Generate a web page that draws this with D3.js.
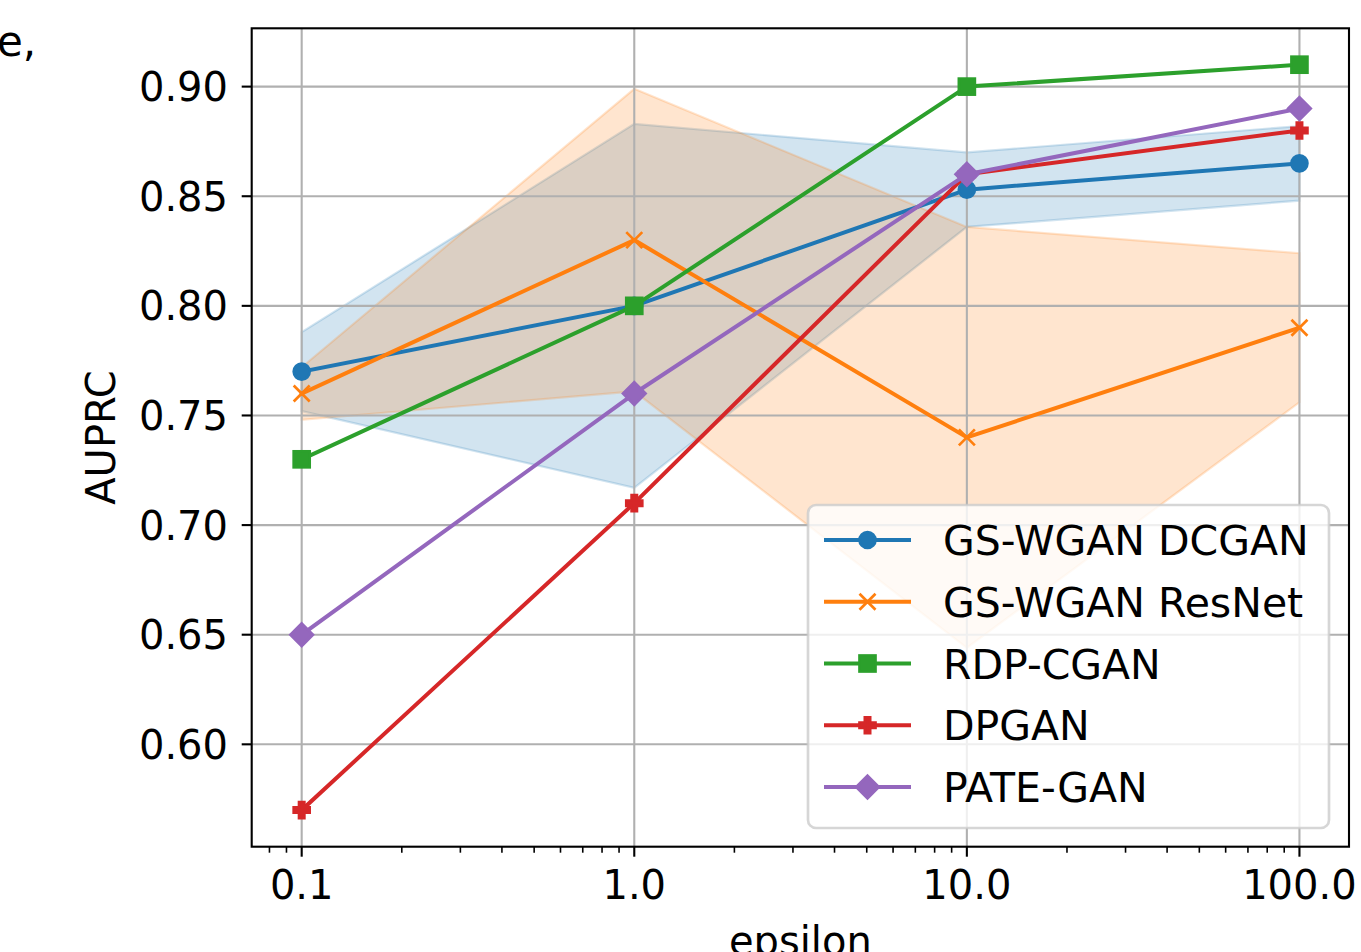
<!DOCTYPE html>
<html>
<head>
<meta charset="utf-8">
<script src="https://cdn.jsdelivr.net/npm/d3@7"></script>
<style>
  html, body { margin: 0; padding: 0; background: #fff; overflow: hidden; }
  svg { display: block; font-family: "DejaVu Sans", sans-serif; }
</style>
</head>
<body>
<svg id="chart" width="1361" height="952"></svg>
<script>
// ---- data ----
const epsilons = [0.1, 1.0, 10.0, 100.0];
const xTickValues = [0.1, 1.0, 10.0, 100.0];
const xTickLabels = ["0.1", "1.0", "10.0", "100.0"];
const yTickValues = [0.60, 0.65, 0.70, 0.75, 0.80, 0.85, 0.90];
const yTickLabels = ["0.60", "0.65", "0.70", "0.75", "0.80", "0.85", "0.90"];

const seriesNames = ["GS-WGAN DCGAN", "GS-WGAN ResNet", "RDP-CGAN", "DPGAN", "PATE-GAN"];
const seriesColors = ["#1f77b4", "#ff7f0e", "#2ca02c", "#d62728", "#9467bd"];
const seriesMarkers = ["circle", "x", "square", "plus", "diamond"];

const dcganMean = [0.770, 0.800, 0.853, 0.865];
const dcganStd  = [0.018, 0.083, 0.017, 0.017];
const resnetMean = [0.760, 0.830, 0.740, 0.790];
const resnetStd  = [0.012, 0.069, 0.096, 0.034];
const rdpcganMean = [0.730, 0.800, 0.900, 0.910];
const dpganMean = [0.570, 0.710, 0.860, 0.880];
const pateganMean = [0.650, 0.760, 0.860, 0.890];

const seriesValues = [dcganMean, resnetMean, rdpcganMean, dpganMean, pateganMean];
const bandStd = [dcganStd, resnetStd, null, null, null];

// ---- layout ----
const L = 251.7, R = 1349, T = 28.3, B = 846.7;
const svg = d3.select("#chart");

const x = d3.scaleLog().domain([Math.pow(10, -1.1503), Math.pow(10, 2.149)]).range([L, R]);
const y = d3.scaleLinear().domain([0.5533, 0.9266]).range([B, T]);

svg.append("defs").append("clipPath").attr("id", "clip")
  .append("rect").attr("x", L).attr("y", T).attr("width", R - L).attr("height", B - T);

// cropped neighbouring text fragment
svg.append("text").attr("x", -3).attr("y", 56).attr("font-size", 42).attr("fill", "#000").text("e,");

const plot = svg.append("g").attr("clip-path", "url(#clip)");

// fill bands
seriesValues.forEach((vals, i) => {
  const sd = bandStd[i];
  if (!sd) return;
  const area = d3.area()
    .x((d, j) => x(epsilons[j]))
    .y0((d, j) => y(vals[j] - sd[j]))
    .y1((d, j) => y(vals[j] + sd[j]));
  plot.append("path").datum(vals).attr("d", area)
    .attr("fill", seriesColors[i]).attr("fill-opacity", 0.2)
    .attr("stroke", seriesColors[i]).attr("stroke-opacity", 0.2).attr("stroke-width", 2.2);
});

// grid
const grid = plot.append("g");
xTickValues.forEach(v => {
  grid.append("line").attr("x1", x(v)).attr("x2", x(v)).attr("y1", T).attr("y2", B)
    .attr("stroke", "#b0b0b0").attr("stroke-width", 2.1);
});
yTickValues.forEach(v => {
  grid.append("line").attr("x1", L).attr("x2", R).attr("y1", y(v)).attr("y2", y(v))
    .attr("stroke", "#b0b0b0").attr("stroke-width", 2.1);
});

// marker drawer
function drawMarker(g, type, cx, cy, color) {
  const ew = 2.67;
  if (type === "circle") {
    g.append("circle").attr("cx", cx).attr("cy", cy).attr("r", 8)
      .attr("fill", color).attr("stroke", color).attr("stroke-width", ew);
  } else if (type === "square") {
    g.append("rect").attr("x", cx - 8).attr("y", cy - 8).attr("width", 16).attr("height", 16)
      .attr("fill", color).attr("stroke", color).attr("stroke-width", ew);
  } else if (type === "diamond") {
    const h = 11.3;
    g.append("path").attr("d", `M${cx},${cy - h}L${cx + h},${cy}L${cx},${cy + h}L${cx - h},${cy}Z`)
      .attr("fill", color).attr("stroke", color).attr("stroke-width", ew).attr("stroke-linejoin", "miter");
  } else if (type === "x") {
    const h = 8;
    g.append("path").attr("d", `M${cx - h},${cy - h}L${cx + h},${cy + h}M${cx - h},${cy + h}L${cx + h},${cy - h}`)
      .attr("fill", "none").attr("stroke", color).attr("stroke-width", ew);
  } else if (type === "plus") {
    const a = 8, b = 8 / 3;
    const p = [[-b, -a], [b, -a], [b, -b], [a, -b], [a, b], [b, b], [b, a], [-b, a], [-b, b], [-a, b], [-a, -b], [-b, -b]];
    g.append("path").attr("d", "M" + p.map(q => `${cx + q[0]},${cy + q[1]}`).join("L") + "Z")
      .attr("fill", color).attr("stroke", color).attr("stroke-width", ew).attr("stroke-linejoin", "miter");
  }
}

// lines and markers
const lineGen = d3.line().x((d, j) => x(epsilons[j])).y(d => y(d));
seriesValues.forEach((vals, i) => {
  const g = plot.append("g");
  g.append("path").datum(vals).attr("d", lineGen)
    .attr("fill", "none").attr("stroke", seriesColors[i]).attr("stroke-width", 4)
    .attr("stroke-linecap", "square").attr("stroke-linejoin", "round");
  vals.forEach((v, j) => drawMarker(g, seriesMarkers[i], x(epsilons[j]), y(v), seriesColors[i]));
});

// axes spines
svg.append("rect").attr("x", L).attr("y", T).attr("width", R - L).attr("height", B - T)
  .attr("fill", "none").attr("stroke", "#000").attr("stroke-width", 2.1);

// x ticks
const minorTicks = [];
for (let e = -2; e <= 2; e++) {
  for (let k = 2; k <= 9; k++) {
    const v = k * Math.pow(10, e);
    if (v >= x.domain()[0] && v <= x.domain()[1]) minorTicks.push(v);
  }
}
minorTicks.forEach(v => {
  svg.append("line").attr("x1", x(v)).attr("x2", x(v)).attr("y1", B).attr("y2", B + 6)
    .attr("stroke", "#000").attr("stroke-width", 1.6);
});
xTickValues.forEach((v, i) => {
  svg.append("line").attr("x1", x(v)).attr("x2", x(v)).attr("y1", B).attr("y2", B + 10)
    .attr("stroke", "#000").attr("stroke-width", 2.1);
  svg.append("text").attr("x", x(v)).attr("y", 899).attr("text-anchor", "middle")
    .attr("font-size", 40).attr("fill", "#000").text(xTickLabels[i]);
});

// y ticks
yTickValues.forEach((v, i) => {
  svg.append("line").attr("x1", L - 10).attr("x2", L).attr("y1", y(v)).attr("y2", y(v))
    .attr("stroke", "#000").attr("stroke-width", 2.1);
  svg.append("text").attr("x", 228).attr("y", y(v) + 14.6).attr("text-anchor", "end")
    .attr("font-size", 40).attr("fill", "#000").text(yTickLabels[i]);
});

// axis labels
svg.append("text").attr("x", (L + R) / 2).attr("y", 955).attr("text-anchor", "middle")
  .attr("font-size", 40).attr("fill", "#000").text("epsilon");
svg.append("text").attr("transform", `translate(115, ${(T + B) / 2}) rotate(-90)`)
  .attr("text-anchor", "middle").attr("font-size", 40).attr("fill", "#000").text("AUPRC");

// legend
const lg = svg.append("g");
lg.append("rect").attr("x", 808).attr("y", 505).attr("width", 521).attr("height", 323)
  .attr("rx", 8).attr("ry", 8)
  .attr("fill", "#fff").attr("fill-opacity", 0.8)
  .attr("stroke", "#cccccc").attr("stroke-opacity", 0.8).attr("stroke-width", 2.67);
const rowY0 = 540, rowGap = 61.75;
seriesNames.forEach((name, i) => {
  const ry = rowY0 + i * rowGap;
  lg.append("line").attr("x1", 824).attr("x2", 911).attr("y1", ry).attr("y2", ry)
    .attr("stroke", seriesColors[i]).attr("stroke-width", 4);
  drawMarker(lg, seriesMarkers[i], 867.5, ry, seriesColors[i]);
  lg.append("text").attr("x", 943).attr("y", ry + 15).attr("font-size", 41)
    .attr("fill", "#000").text(name);
});
</script>
</body>
</html>
